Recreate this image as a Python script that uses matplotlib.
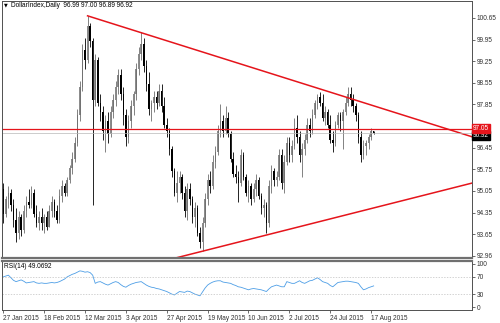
import numpy as np
import matplotlib
matplotlib.use("Agg")
import matplotlib.pyplot as plt

plt.rcParams['font.family'] = ['Liberation Sans', 'DejaVu Sans']

# daily OHLC, one row per trading day from 27 Jan 2015
opens = [95.1, 94.3, 94.8, 95.0, 94.6, 94.1, 93.7, 94.2, 93.8, 94.4,
         94.7, 94.6, 95.0, 94.3, 94.0, 94.2, 94.0, 94.2, 93.9, 94.4,
         94.7, 94.4, 94.1, 94.9, 95.2, 95.0, 95.4, 95.8, 96.1, 96.6,
         97.5, 98.4, 99.6, 99.3, 100.4, 99.9, 98.0, 99.3, 97.9, 97.6,
         97.0, 97.3, 96.9, 97.6, 98.0, 98.4, 98.8, 98.2, 97.5, 96.8,
         97.3, 97.8, 98.2, 99.0, 99.5, 99.8, 99.1, 98.5, 97.7, 97.9,
         98.1, 97.9, 98.3, 97.8, 97.2, 97.0, 96.4, 95.7, 95.0, 95.3,
         95.5, 95.0, 94.4, 95.1, 94.8, 94.2, 94.5, 93.7, 93.4, 94.0,
         94.8, 95.4, 95.2, 96.0, 96.3, 97.0, 97.3, 97.0, 97.4, 96.9,
         96.1, 95.6, 95.5, 95.3, 96.2, 95.5, 95.0, 95.2, 94.8, 95.1,
         95.4, 94.9, 94.5, 94.6, 94.0, 95.2, 95.7, 95.4, 95.5, 96.2,
         95.3, 96.0, 96.6, 96.2, 96.5, 97.1, 96.8, 96.2, 96.4, 96.7,
         97.2, 97.0, 97.5, 97.9, 98.1, 97.9, 97.4, 97.6, 97.2, 96.7,
         96.6, 97.2, 97.5, 97.3, 97.6, 97.9, 98.2, 98.0, 97.8, 97.5,
         96.8, 96.2, 96.5, 96.6, 96.8, 96.99]
highs = [95.3, 94.9, 95.2, 95.1, 94.8, 94.5, 94.4, 94.3, 94.6, 94.9,
         95.1, 95.2, 95.1, 94.6, 94.4, 94.5, 94.3, 94.4, 94.6, 94.9,
         94.8, 94.6, 95.1, 95.4, 95.3, 95.5, 95.9, 96.3, 96.8, 97.7,
         98.6, 99.8, 100.0, 100.7, 100.5, 100.0, 99.5, 99.4, 98.2, 97.8,
         97.5, 97.6, 97.8, 98.2, 98.6, 99.0, 99.0, 98.4, 97.7, 97.5,
         98.0, 98.3, 99.2, 99.7, 100.2, 100.0, 99.3, 98.9, 98.0, 98.3,
         98.3, 98.5, 98.5, 98.1, 97.4, 97.1, 96.5, 95.8, 95.7, 95.7,
         95.6, 95.2, 95.3, 95.3, 94.9, 94.7, 94.6, 93.9, 94.2, 95.0,
         95.6, 95.7, 96.2, 96.5, 97.2, 97.85, 97.5, 97.8, 97.6, 97.0,
         96.3, 95.9, 95.7, 96.4, 96.3, 95.6, 95.4, 95.3, 95.3, 95.6,
         95.5, 95.0, 94.8, 94.7, 95.4, 95.9, 95.8, 95.7, 96.4, 96.4,
         96.2, 96.8, 96.8, 96.7, 97.4, 97.5, 97.0, 96.6, 96.9, 97.4,
         97.4, 97.7, 98.0, 98.2, 98.25, 98.2, 97.8, 97.7, 97.5, 97.0,
         97.3, 97.6, 97.6, 97.7, 98.1, 98.4, 98.4, 98.2, 97.9, 97.6,
         97.0, 96.7, 96.7, 96.9, 97.1, 97.00]
lows = [94.0, 94.2, 94.5, 94.4, 93.9, 93.4, 93.5, 93.6, 93.7, 94.2,
        94.5, 94.5, 94.2, 93.9, 93.8, 93.8, 93.7, 93.8, 93.9, 94.2,
        94.2, 94.0, 94.0, 94.7, 94.9, 94.9, 95.3, 95.6, 96.0, 96.5,
        97.3, 98.3, 99.0, 99.2, 99.7, 94.6, 97.8, 97.8, 97.3, 96.7,
        96.3, 96.6, 96.8, 97.4, 97.8, 98.2, 98.0, 97.2, 96.5, 96.6,
        97.1, 97.5, 98.0, 98.8, 99.3, 98.9, 98.3, 97.5, 97.3, 97.6,
        97.7, 97.8, 97.6, 97.1, 96.8, 96.2, 95.5, 94.9, 94.7, 95.0,
        94.8, 94.2, 94.1, 94.6, 94.0, 93.9, 93.6, 93.2, 93.1, 93.9,
        94.6, 95.0, 95.1, 95.8, 96.2, 96.8, 96.8, 96.9, 96.8, 96.0,
        95.5, 95.3, 94.7, 95.2, 95.4, 94.9, 94.7, 94.6, 94.7, 94.9,
        94.8, 94.3, 94.2, 93.7, 93.9, 95.0, 95.2, 95.2, 95.4, 95.1,
        95.0, 95.9, 96.0, 96.0, 96.4, 96.6, 96.0, 95.5, 96.2, 96.6,
        96.8, 96.9, 97.4, 97.7, 97.8, 97.3, 97.2, 97.1, 96.6, 96.3,
        96.5, 97.1, 97.0, 96.4, 97.5, 97.8, 97.8, 97.6, 97.3, 96.6,
        96.0, 96.1, 96.2, 96.4, 96.7, 96.89]
closes = [94.3, 94.8, 95.0, 94.6, 94.1, 93.7, 94.2, 93.8, 94.4, 94.7,
          94.6, 95.0, 94.3, 94.0, 94.2, 94.0, 94.2, 93.9, 94.4, 94.7,
          94.4, 94.1, 94.9, 95.2, 95.0, 95.4, 95.8, 96.1, 96.6, 97.5,
          98.4, 99.6, 99.3, 100.4, 99.9, 98.0, 99.3, 97.9, 97.6, 97.0,
          97.3, 96.9, 97.6, 98.0, 98.4, 98.8, 98.2, 97.5, 96.8, 97.3,
          97.8, 98.2, 99.0, 99.5, 99.8, 99.1, 98.5, 97.7, 97.9, 98.1,
          97.9, 98.3, 97.8, 97.2, 97.0, 96.4, 95.7, 95.0, 95.3, 95.5,
          95.0, 94.4, 95.1, 94.8, 94.2, 94.5, 93.7, 93.4, 94.0, 94.8,
          95.4, 95.2, 96.0, 96.3, 97.0, 97.3, 97.0, 97.4, 96.9, 96.1,
          95.6, 95.5, 95.3, 96.2, 95.5, 95.0, 95.2, 94.8, 95.1, 95.4,
          94.9, 94.5, 94.6, 94.0, 95.2, 95.7, 95.4, 95.5, 96.2, 95.3,
          96.0, 96.6, 96.2, 96.5, 97.1, 96.8, 96.2, 96.4, 96.7, 97.2,
          97.0, 97.5, 97.9, 98.1, 97.9, 97.4, 97.6, 97.2, 96.7, 96.6,
          97.2, 97.5, 97.3, 97.6, 97.9, 98.2, 98.0, 97.8, 97.5, 96.8,
          96.2, 96.5, 96.6, 96.8, 96.99, 96.92]

rsi = [70, 72, 74, 68, 62, 59, 61, 63, 60, 56,
       57, 58, 59, 56, 55, 56, 55, 55, 56, 57,
       56, 57, 59, 62, 65, 70, 73, 76, 78, 81,
       84, 83, 81, 82, 80, 74, 55, 58, 59, 56,
       53, 51, 54, 57, 59, 57, 52, 48, 46, 50,
       53, 55, 57, 58, 59, 55, 51, 48, 46, 45,
       43, 42, 40, 38, 36, 33, 30, 28, 32, 36,
       35, 34, 37, 36, 33, 30, 28, 26, 35, 44,
       51, 55, 58, 60, 61, 61, 58, 57, 56, 55,
       52, 50, 47, 46, 44, 42, 40, 42, 43, 42,
       41, 40, 38, 36, 42, 47, 49, 51, 49, 47,
       47, 59, 57, 55, 55, 58, 61, 57, 55, 58,
       61, 62, 65, 68, 64, 59, 57, 55, 50, 47,
       52, 57, 58, 59, 60, 60, 59, 58, 57, 55,
       47, 40, 42, 45, 47, 49.0692]

date_ticks = [0, 16, 32, 48, 64, 80, 96, 112, 128, 144]
date_labels = ["27 Jan 2015", "18 Feb 2015", "12 Mar 2015", "3 Apr 2015",
               "27 Apr 2015", "19 May 2015", "10 Jun 2015", "2 Jul 2015",
               "24 Jul 2015", "17 Aug 2015"]
price_ticks = [100.65, 99.95, 99.25, 98.55, 97.85, 97.15, 96.45, 95.75,
               95.05, 94.35, 93.65, 92.96]
hidden_tick = 97.15   # covered by the price labels in the terminal
rsi_ticks = [100, 70, 30, 0]

# trend lines (bar index, price) and horizontal level
upper_line = ([33, 183.7], [100.72, 96.80])
lower_line = ([66, 183.7], [92.85, 95.31])
level = 97.05
bid = 96.92

fig = plt.figure(figsize=(5, 3.23), dpi=100)
ax = fig.add_axes([0.004, 0.2012, 0.94, 0.7957])
ax2 = fig.add_axes([0.004, 0.0402, 0.94, 0.1518])

idx = np.arange(len(closes))
o = np.array(opens); c = np.array(closes)
up = c >= o
frame = '#505050'
fs = 4.7

ax.vlines(idx[up], np.array(lows)[up], np.array(highs)[up], color='#6e6e6e', lw=0.6)
ax.vlines(idx[~up], np.array(lows)[~up], np.array(highs)[~up], color='black', lw=0.6)
body_lo = np.minimum(o, c)
body_h = np.maximum(np.abs(c - o), 0.03)
ax.bar(idx[up], body_h[up], bottom=body_lo[up], width=0.6, color='#8c8c8c', lw=0)
ax.bar(idx[~up], body_h[~up], bottom=body_lo[~up], width=0.6, color='black', lw=0)

red = '#e5141b'
ax.plot(*upper_line, color=red, lw=1.1)
ax.plot(*lower_line, color=red, lw=1.1)
ax.axhline(level, color=red, lw=0.9)
ax.axhline(bid, color='#b8b8b8', lw=0.5)

ax.set_xlim(-0.5, 183.5)
ax.set_ylim(92.88, 101.2)
ax.yaxis.tick_right()
ax.set_yticks(price_ticks)
ax.set_yticklabels(["" if t == hidden_tick else f"{t:.2f}" for t in price_ticks])
ax.set_xticks([])
ax.tick_params(axis='y', direction='out', length=2, width=0.5, pad=1.5,
               labelsize=fs, colors='#303030')

ax.text(0.004, 0.995, "\u25bc", transform=ax.transAxes, fontsize=3.5,
        va='top', ha='left', family='DejaVu Sans')
ax.text(0.02, 0.996, "DollarIndex,Daily  96.99 97.00 96.89 96.92",
        transform=ax.transAxes, fontsize=fs, va='top', ha='left')

# price labels on the right scale (red level label sits over the bid label)
ax.text(1.002, bid - 0.06, "96.92", transform=ax.get_yaxis_transform(), fontsize=fs,
        color='white', va='center', ha='left', zorder=5, clip_on=False,
        bbox=dict(boxstyle='square,pad=0.15', fc='black', ec='black'))
ax.text(1.002, level + 0.03, "97.05", transform=ax.get_yaxis_transform(), fontsize=fs,
        color='white', va='center', ha='left', zorder=6, clip_on=False,
        bbox=dict(boxstyle='square,pad=0.15', fc=red, ec=red))

for sp in ax.spines.values():
    sp.set_color(frame); sp.set_linewidth(0.7)
ax.spines['bottom'].set_linewidth(1.6)
ax.spines['bottom'].set_color('#707070')

# RSI panel
ax2.plot(idx, rsi, color='#4d9ee6', lw=0.6)
for lvl in (70, 30):
    ax2.axhline(lvl, color='#c0c0c0', lw=0.5, ls=(0, (2, 2)))
ax2.set_xlim(-0.5, 183.5)
ax2.set_ylim(-7, 107)
ax2.yaxis.tick_right()
ax2.set_yticks(rsi_ticks)
ax2.set_yticklabels([str(t) for t in rsi_ticks])
ax2.set_xticks(date_ticks)
ax2.set_xticklabels(date_labels, ha='left')
ax2.tick_params(axis='both', direction='out', length=2, width=0.5, pad=1.5,
                labelsize=fs, colors='#303030')
ax2.text(0.004, 0.95, "RSI(14) 49.0692", transform=ax2.transAxes, fontsize=fs,
         va='top', ha='left')
for sp in ax2.spines.values():
    sp.set_color(frame); sp.set_linewidth(0.7)
ax2.spines['top'].set_linewidth(1.6)
ax2.spines['top'].set_color('#707070')

fig.savefig("out.png", dpi=100, facecolor='white')
